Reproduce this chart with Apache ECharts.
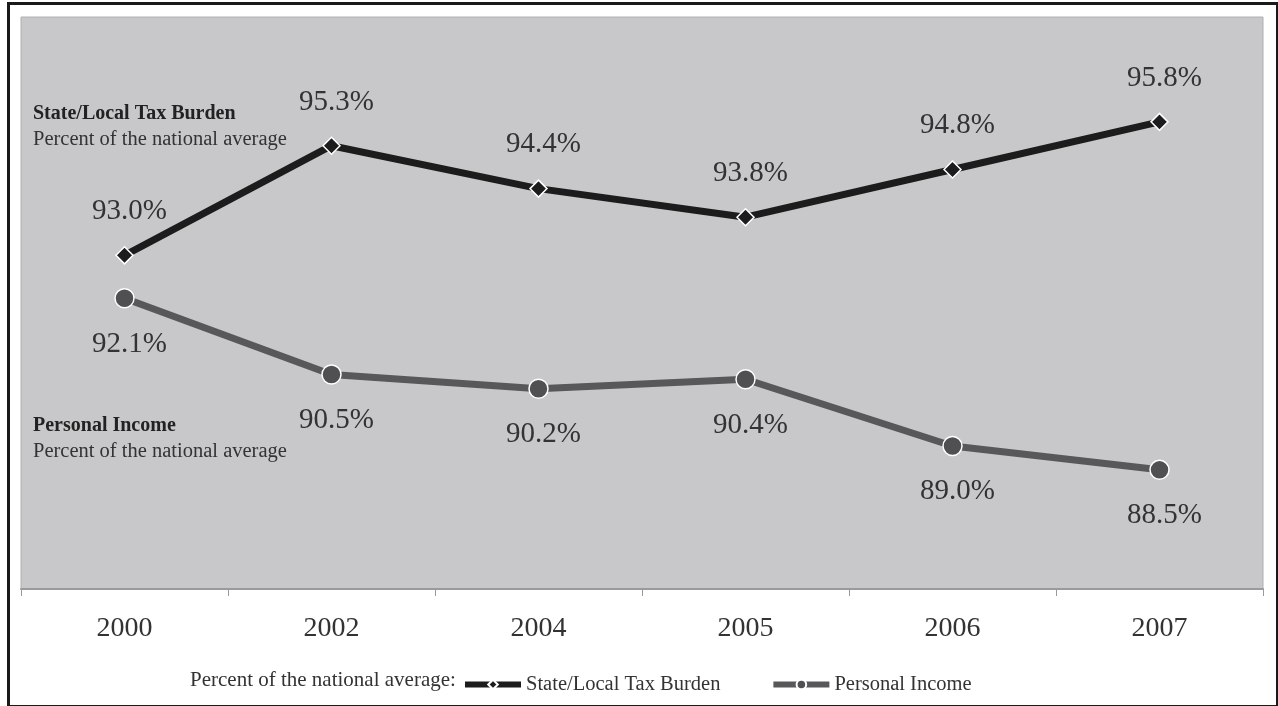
<!DOCTYPE html>
<html>
<head>
<meta charset="utf-8">
<script src="https://cdn.jsdelivr.net/npm/echarts@6/dist/echarts.min.js"></script>
<style>
html,body{margin:0;padding:0;background:#fff;}
#chart{width:1278px;height:706px;}
</style>
</head>
<body>
<div id="chart"></div>
<script>
const years = ['2000','2002','2004','2005','2006','2007'];
const taxBurden = [93.0, 95.3, 94.4, 93.8, 94.8, 95.8];
const personalIncome = [92.1, 90.5, 90.2, 90.4, 89.0, 88.5];
const legendPrefix = 'Percent of the national average:';

const serif = '"Liberation Serif", "DejaVu Serif", serif';
const chart = echarts.init(document.getElementById('chart'));
chart.setOption({
  animation: false,
  backgroundColor: '#ffffff',
  grid: {
    left: 21, right: 15, top: 17, bottom: 117,
    show: true, backgroundColor: '#c8c8ca', borderColor: '#b0b0b2', borderWidth: 1
  },
  xAxis: {
    type: 'category',
    data: years,
    boundaryGap: true,
    axisLine: { show: true, lineStyle: { color: '#9a9a9c', width: 2 } },
    axisTick: { show: true, length: 7, lineStyle: { color: '#9a9a9c', width: 1 } },
    axisLabel: { fontFamily: serif, fontSize: 28, color: '#333', margin: 26 }
  },
  yAxis: {
    type: 'value', min: 86, max: 98, show: false,
    splitLine: { show: false }
  },
  legend: {
    left: 457, top: 669,
    itemWidth: 56, itemHeight: 12, itemGap: 50,
    lineStyle: { width: 6 },
    textStyle: { fontFamily: serif, fontSize: 20.5, color: '#333' },
    data: ['State/Local Tax Burden', 'Personal Income']
  },
  graphic: [
    { type: 'rect', left: 6, top: 1, shape: { width: 1269, height: 703 },
      style: { fill: 'none', stroke: '#1a1a1a', lineWidth: 3 }, silent: true, z: 100 },
    { type: 'text', left: 190, top: 670,
      style: { text: legendPrefix, font: '21px ' + serif, fill: '#333' } },
    { type: 'text', left: 33, top: 104,
      style: { text: 'State/Local Tax Burden', font: 'bold 20px ' + serif, fill: '#222' } },
    { type: 'text', left: 33, top: 129,
      style: { text: 'Percent of the national average', font: '20.5px ' + serif, fill: '#333' } },
    { type: 'text', left: 33, top: 416,
      style: { text: 'Personal Income', font: 'bold 20px ' + serif, fill: '#222' } },
    { type: 'text', left: 33, top: 441,
      style: { text: 'Percent of the national average', font: '20.5px ' + serif, fill: '#333' } }
  ],
  series: [
    {
      name: 'State/Local Tax Burden',
      type: 'line',
      data: taxBurden,
      symbol: 'diamond', symbolSize: 17,
      lineStyle: { color: '#1c1c1c', width: 7 },
      itemStyle: { color: '#1c1c1c', borderColor: '#ffffff', borderWidth: 1.5 },
      label: {
        show: true, position: 'top', distance: 20, offset: [5, 0],
        formatter: p => p.value.toFixed(1) + '%',
        fontFamily: serif, fontSize: 29, color: '#333'
      },
      z: 3
    },
    {
      name: 'Personal Income',
      type: 'line',
      data: personalIncome,
      symbol: 'circle', symbolSize: 19,
      lineStyle: { color: '#58585a', width: 7 },
      itemStyle: { color: '#505052', borderColor: '#ffffff', borderWidth: 1.5 },
      label: {
        show: true, position: 'bottom', distance: 21, offset: [5, 0],
        formatter: p => p.value.toFixed(1) + '%',
        fontFamily: serif, fontSize: 29, color: '#333'
      },
      z: 2
    }
  ]
});
</script>
</body>
</html>
